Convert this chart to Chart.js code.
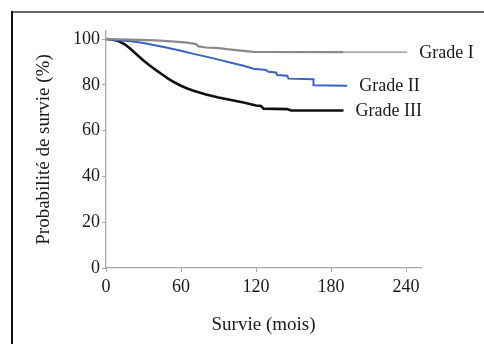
<!DOCTYPE html>
<html>
<head>
<meta charset="utf-8">
<script src="https://cdn.jsdelivr.net/npm/chart.js@4"></script>
<style>
  html, body { margin: 0; padding: 0; background: #fff; }
  #wrap { position: relative; width: 484px; height: 344px; }
</style>
</head>
<body>
<div id="wrap"><canvas id="c" width="484" height="344"></canvas></div>
<script>
// ---- data ----
const seriesNames = ["Grade I", "Grade II", "Grade III"];
const gradeI = [[0,100],[20,99.7],[40,99.4],[55,98.9],[65,98.4],[72,97.8],[74,96.8],[80,96.3],[90,96.0],[100,95.4],[110,94.8],[118,94.4],[190,94.3],[241,94.3]];
const gradeII = [[0,100],[10,99.5],[20,99.0],[30,98.3],[40,97.2],[50,96.1],[60,94.9],[70,93.5],[80,92.3],[90,91.0],[100,89.6],[110,88.3],[118,87.0],[128,86.5],[130,85.7],[136,85.4],[137,84.3],[145,84.0],[146,82.7],[166,82.4],[166,79.8],[193,79.6]];
const gradeIII = [[0,100],[5,99.8],[10,99.1],[15,97.7],[20,95.5],[25,93.0],[30,90.6],[35,88.4],[40,86.4],[45,84.5],[50,82.6],[55,81.0],[60,79.6],[65,78.4],[70,77.4],[80,75.8],[90,74.5],[100,73.4],[110,72.3],[120,71.0],[124,70.8],[126,69.6],[145,69.4],[148,68.8],[190,68.8]];
const xTicks = [0, 60, 120, 180, 240];
const yTicks = [0, 20, 40, 60, 80, 100];
const xTitle = "Survie (mois)";
const yTitle = "Probabilité de survie (%)";

const toPts = a => a.map(p => ({x: p[0], y: p[1]}));
const FONT = "'Liberation Serif', 'Times New Roman', serif";
const axisGray = '#a8a8a8';
const textCol = '#1a1a1a';

const framePlugin = {
  id: 'frame',
  beforeDraw(chart) {
    const ctx = chart.ctx;
    ctx.save();
    ctx.lineWidth = 2;
    ctx.strokeStyle = '#666';
    ctx.beginPath(); ctx.moveTo(11, 12); ctx.lineTo(484, 12); ctx.stroke();
    ctx.strokeStyle = '#111';
    ctx.beginPath(); ctx.moveTo(12, 11); ctx.lineTo(12, 344); ctx.stroke();
    ctx.restore();
  }
};

const endLabels = {
  id: 'endLabels',
  afterDatasetsDraw(chart) {
    const ctx = chart.ctx;
    ctx.save();
    ctx.font = "18px " + FONT;
    ctx.fillStyle = textCol;
    ctx.textAlign = 'left';
    ctx.textBaseline = 'middle';
    chart.data.datasets.forEach((ds, i) => {
      const meta = chart.getDatasetMeta(i);
      const last = meta.data[meta.data.length - 1];
      ctx.fillText(ds.label, last.x + 12, last.y + 1);
    });
    ctx.restore();
  }
};

new Chart(document.getElementById('c'), {
  type: 'line',
  data: {
    datasets: [
      { label: seriesNames[0], data: toPts(gradeI), borderColor: '#8a8a8a', borderWidth: 2.2, pointRadius: 0, tension: 0,
        segment: { borderWidth: c => c.p0.parsed.x >= 190 ? 1.3 : 2.2 } },
      { label: seriesNames[1], data: toPts(gradeII), borderColor: '#3a62bf', borderWidth: 2, pointRadius: 0, tension: 0 },
      { label: seriesNames[2], data: toPts(gradeIII), borderColor: '#111111', borderWidth: 2.6, pointRadius: 0, tension: 0 }
    ]
  },
  options: {
    responsive: false,
    animation: false,
    events: [],
    layout: { padding: { left: 12, right: 63, top: 31, bottom: 0 } },
    plugins: { legend: { display: false }, tooltip: { enabled: false } },
    scales: {
      x: {
        type: 'linear', min: 0, max: 252,
        afterBuildTicks: s => { s.ticks = xTicks.map(v => ({value: v})); },
        afterFit: s => { s.height = 76; },
        grid: { drawOnChartArea: false, drawTicks: true, tickLength: 4, color: axisGray },
        border: { color: axisGray, width: 1.3 },
        ticks: { color: textCol, font: { family: FONT, size: 18 }, padding: 4, maxRotation: 0 },
        title: { display: true, text: xTitle, color: textCol, font: { family: FONT, size: 19 }, padding: { top: 0, bottom: 8 } }
      },
      y: {
        type: 'linear', min: 0, max: 103.5,
        afterBuildTicks: s => { s.ticks = yTicks.map(v => ({value: v})); },
        afterFit: s => { s.width = 94; },
        grid: { drawOnChartArea: false, drawTicks: true, tickLength: 4, color: axisGray },
        border: { color: axisGray, width: 1.3 },
        ticks: { color: textCol, font: { family: FONT, size: 18 }, padding: 2 },
        title: { display: true, text: yTitle, color: textCol, font: { family: FONT, size: 19 }, padding: { top: 21, bottom: 0 } }
      }
    }
  },
  plugins: [framePlugin, endLabels]
});
</script>
</body>
</html>
